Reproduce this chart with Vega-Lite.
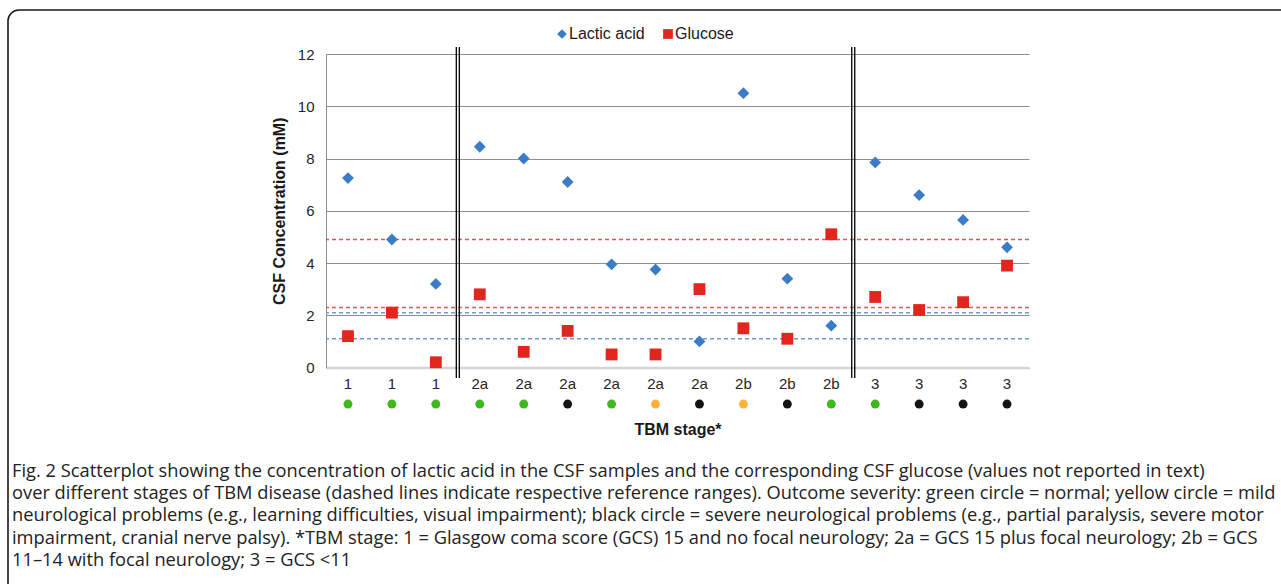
{
  "$schema": "https://vega.github.io/schema/vega-lite/v6.json",
  "width": 703,
  "height": 313.5,
  "autosize": {"type": "none"},
  "padding": {"left": 326, "top": 54, "right": 252, "bottom": 216.5},
  "background": "white",
  "config": {
    "view": {"stroke": null},
    "font": "Liberation Sans",
    "axis": {"labelFont": "Liberation Sans", "titleFont": "Liberation Sans", "labelColor": "#262626", "titleColor": "#1a1a1a"}
  },
  "title": {
    "text": [
      "Fig. 2 Scatterplot showing the concentration of lactic acid in the CSF samples and the corresponding CSF glucose (values not reported in text)",
      "over different stages of TBM disease (dashed lines indicate respective reference ranges). Outcome severity: green circle = normal; yellow circle = mild",
      "neurological problems (e.g., learning difficulties, visual impairment); black circle = severe neurological problems (e.g., partial paralysis, severe motor",
      "impairment, cranial nerve palsy). *TBM stage: 1 = Glasgow coma score (GCS) 15 and no focal neurology; 2a = GCS 15 plus focal neurology; 2b = GCS",
      "11–14 with focal neurology; 3 = GCS <11"
    ],
    "orient": "bottom",
    "anchor": "start",
    "frame": "group",
    "font": "Open Sans",
    "fontSize": 18.3,
    "fontWeight": "normal",
    "color": "#222222",
    "lineHeight": 22.3,
    "dx": -314,
    "offset": -192
  },
  "datasets": {
    "points": [
      {"id": 1, "series": "Lactic acid", "value": 7.25},
      {"id": 2, "series": "Lactic acid", "value": 4.9},
      {"id": 3, "series": "Lactic acid", "value": 3.2},
      {"id": 4, "series": "Lactic acid", "value": 8.45},
      {"id": 5, "series": "Lactic acid", "value": 8.0},
      {"id": 6, "series": "Lactic acid", "value": 7.1},
      {"id": 7, "series": "Lactic acid", "value": 3.95},
      {"id": 8, "series": "Lactic acid", "value": 3.75},
      {"id": 9, "series": "Lactic acid", "value": 1.0},
      {"id": 10, "series": "Lactic acid", "value": 10.5},
      {"id": 11, "series": "Lactic acid", "value": 3.4},
      {"id": 12, "series": "Lactic acid", "value": 1.6},
      {"id": 13, "series": "Lactic acid", "value": 7.85},
      {"id": 14, "series": "Lactic acid", "value": 6.6},
      {"id": 15, "series": "Lactic acid", "value": 5.65},
      {"id": 16, "series": "Lactic acid", "value": 4.6},
      {"id": 1, "series": "Glucose", "value": 1.2},
      {"id": 2, "series": "Glucose", "value": 2.1},
      {"id": 3, "series": "Glucose", "value": 0.2},
      {"id": 4, "series": "Glucose", "value": 2.8},
      {"id": 5, "series": "Glucose", "value": 0.6},
      {"id": 6, "series": "Glucose", "value": 1.4},
      {"id": 7, "series": "Glucose", "value": 0.5},
      {"id": 8, "series": "Glucose", "value": 0.5},
      {"id": 9, "series": "Glucose", "value": 3.0},
      {"id": 10, "series": "Glucose", "value": 1.5},
      {"id": 11, "series": "Glucose", "value": 1.1},
      {"id": 12, "series": "Glucose", "value": 5.1},
      {"id": 13, "series": "Glucose", "value": 2.7},
      {"id": 14, "series": "Glucose", "value": 2.2},
      {"id": 15, "series": "Glucose", "value": 2.5},
      {"id": 16, "series": "Glucose", "value": 3.9}
    ],
    "outcomes": [
      {"id": 1, "stage": "1", "outcome": "normal"},
      {"id": 2, "stage": "1", "outcome": "normal"},
      {"id": 3, "stage": "1", "outcome": "normal"},
      {"id": 4, "stage": "2a", "outcome": "normal"},
      {"id": 5, "stage": "2a", "outcome": "normal"},
      {"id": 6, "stage": "2a", "outcome": "severe"},
      {"id": 7, "stage": "2a", "outcome": "normal"},
      {"id": 8, "stage": "2a", "outcome": "mild"},
      {"id": 9, "stage": "2a", "outcome": "severe"},
      {"id": 10, "stage": "2b", "outcome": "mild"},
      {"id": 11, "stage": "2b", "outcome": "severe"},
      {"id": 12, "stage": "2b", "outcome": "normal"},
      {"id": 13, "stage": "3", "outcome": "normal"},
      {"id": 14, "stage": "3", "outcome": "severe"},
      {"id": 15, "stage": "3", "outcome": "severe"},
      {"id": 16, "stage": "3", "outcome": "severe"}
    ],
    "refs": [
      {"range": "Glucose reference", "value": 4.9},
      {"range": "Glucose reference", "value": 2.3},
      {"range": "Lactic acid reference", "value": 2.1},
      {"range": "Lactic acid reference", "value": 1.1}
    ],
    "dividers": [
      {"id": 3},
      {"id": 12}
    ]
  },
  "layer": [
    {
      "data": {"name": "refs"},
      "mark": {"type": "rule", "strokeDash": [4, 3], "strokeWidth": 1.5},
      "encoding": {
        "y": {"field": "value", "type": "quantitative"},
        "stroke": {
          "field": "range",
          "type": "nominal",
          "scale": {"domain": ["Lactic acid reference", "Glucose reference"], "range": ["#6f9bd0", "#e4554b"]},
          "legend": null
        }
      }
    },
    {
      "data": {"name": "points"},
      "mark": {"type": "point", "filled": true, "opacity": 1, "size": 140},
      "encoding": {
        "x": {
          "field": "id",
          "type": "ordinal",
          "scale": {"paddingInner": 0, "paddingOuter": 0},
          "axis": {
            "labelExpr": "['1','1','1','2a','2a','2a','2a','2a','2a','2b','2b','2b','3','3','3','3'][datum.value-1]",
            "labelAngle": 0,
            "labelFontSize": 15,
            "labelPadding": 9,
            "ticks": false,
            "domainColor": "#d4d4d4",
            "domainWidth": 2.5,
            "title": "TBM stage*",
            "titleFontSize": 16,
            "titleFontWeight": "bold",
            "titlePadding": 30
          }
        },
        "y": {
          "field": "value",
          "type": "quantitative",
          "scale": {"domain": [0, 12], "nice": false},
          "axis": {
            "values": [0, 2, 4, 6, 8, 10, 12],
            "grid": true,
            "gridColor": "#8f8f8f",
            "gridWidth": 1,
            "domainColor": "#8f8f8f",
            "ticks": false,
            "labelFontSize": 15,
            "labelPadding": 12,
            "title": "CSF Concentration (mM)",
            "titleFontSize": 16,
            "titleFontWeight": "bold",
            "titlePadding": 10
          }
        },
        "color": {
          "field": "series",
          "type": "nominal",
          "scale": {"domain": ["Lactic acid", "Glucose"], "range": ["#3b7cc6", "#e1271d"]},
          "legend": {
            "title": null,
            "orient": "none",
            "legendX": 228,
            "legendY": -28,
            "direction": "horizontal",
            "labelFontSize": 16,
            "labelFont": "Liberation Sans",
            "labelColor": "#1a1a1a",
            "symbolSize": 95,
            "columnPadding": 15,
            "labelOffset": -1
          }
        },
        "shape": {
          "field": "series",
          "type": "nominal",
          "scale": {"domain": ["Lactic acid", "Glucose"], "range": ["diamond", "square"]}
        }
      }
    },
    {
      "data": {"name": "dividers"},
      "mark": {"type": "rule", "color": "#000000", "strokeWidth": 1.3, "xOffset": -1.5},
      "encoding": {
        "x": {"field": "id", "type": "ordinal", "bandPosition": 1},
        "y": {"datum": 12.27},
        "y2": {"datum": -0.4}
      }
    },
    {
      "data": {"name": "dividers"},
      "mark": {"type": "rule", "color": "#000000", "strokeWidth": 1.3, "xOffset": 1.5},
      "encoding": {
        "x": {"field": "id", "type": "ordinal", "bandPosition": 1},
        "y": {"datum": 12.27},
        "y2": {"datum": -0.4}
      }
    },
    {
      "data": {"name": "outcomes"},
      "mark": {"type": "circle", "size": 80, "opacity": 1},
      "encoding": {
        "x": {"field": "id", "type": "ordinal"},
        "y": {"datum": -1.4},
        "fill": {
          "field": "outcome",
          "type": "nominal",
          "scale": {"domain": ["normal", "mild", "severe"], "range": ["#3fb71e", "#fbb23d", "#141414"]},
          "legend": null
        }
      }
    },
    {
      "data": {"values": [{"frame": "figure"}]},
      "mark": {
        "type": "rect",
        "fill": null,
        "fillOpacity": 0,
        "stroke": "#1a1a1a",
        "strokeWidth": 1.6,
        "cornerRadius": 11,
        "clip": false,
        "x": -318,
        "y": -44,
        "x2": 1000,
        "y2": 600
      },
      "encoding": {}
    }
  ]
}
